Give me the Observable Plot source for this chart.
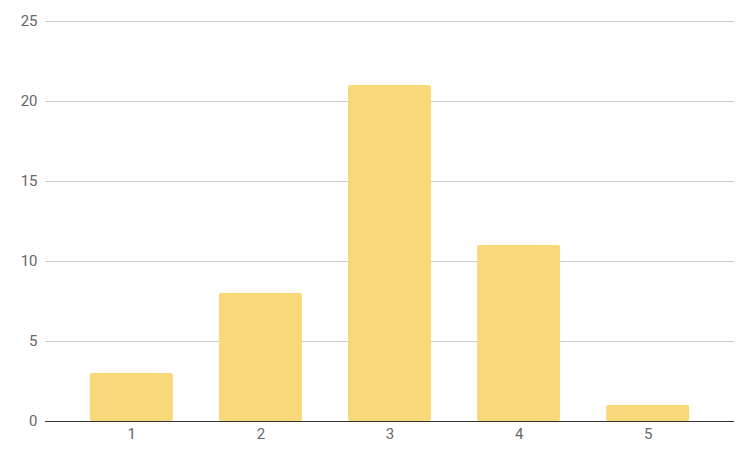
<!DOCTYPE html>
<html>
<head>
<meta charset="utf-8">
<script src="https://cdn.jsdelivr.net/npm/d3@7"></script>
<script src="https://cdn.jsdelivr.net/npm/@observablehq/plot@0.6"></script>
<style>
  body { margin: 0; background: #fff; }
</style>
</head>
<body>
<div id="chart"></div>
<script>
const categories = ["1", "2", "3", "4", "5"];
const values = [3, 8, 21, 11, 1];
const yTicks = [0, 5, 10, 15, 20, 25];

const data = categories.map((c, i) => ({category: c, value: values[i]}));

const chart = Plot.plot({
  width: 750,
  height: 454,
  marginLeft: 45,
  marginRight: 16,
  marginTop: 21,
  marginBottom: 33,
  style: {fontFamily: "Roboto", fontSize: "15px", color: "#666666", background: "#fff"},
  x: {domain: categories, paddingInner: 0.357, paddingOuter: 0.347, round: false, label: null, tickSize: 0, tickPadding: 7},
  y: {domain: [0, 25], ticks: yTicks, label: null, tickSize: 0, tickPadding: 8},
  marks: [
    Plot.gridY(yTicks.filter(d => d > 0), {stroke: "#cccccc", strokeOpacity: 1, strokeWidth: 1}),
    Plot.barY(data, {x: "category", y: "value", fill: "#f9d87a", rx: 2}),
    Plot.ruleY([0], {stroke: "#333333", strokeWidth: 1.2})
  ]
});
document.getElementById("chart").append(chart);
</script>
</body>
</html>
